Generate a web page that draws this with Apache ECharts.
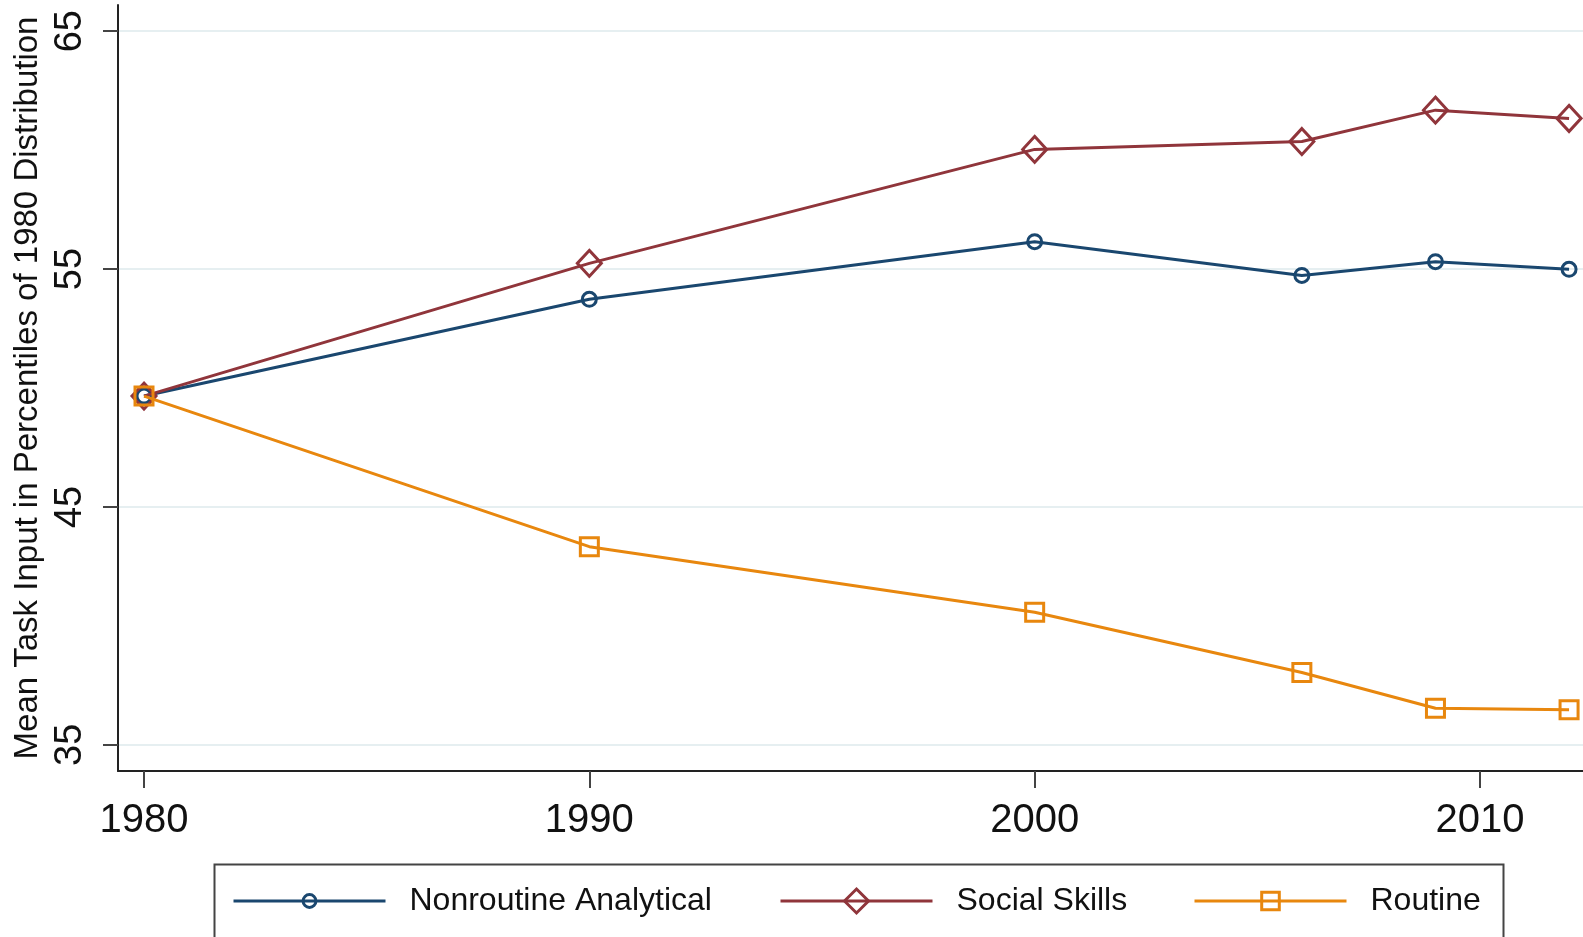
<!DOCTYPE html>
<html>
<head>
<meta charset="utf-8">
<script src="https://cdn.jsdelivr.net/npm/echarts@6/dist/echarts.min.js"></script>
<style>
html,body{margin:0;padding:0;background:#fff;}
#chart{width:1583px;height:937px;}
</style>
</head>
<body>
<div id="chart"></div>
<script>
const years = [1980, 1990, 2000, 2006, 2009, 2012];
const nonroutineAnalytical = [49.66, 53.73, 56.15, 54.73, 55.31, 54.99];
const socialSkills = [49.66, 55.24, 60.03, 60.36, 61.68, 61.33];
const routine = [49.66, 43.33, 40.57, 38.04, 36.54, 36.47];
const xTickLabels = [1980, 1990, 2000, 2010];
const yTickLabels = [35, 45, 55, 65];
const seriesNames = ['Nonroutine Analytical', 'Social Skills', 'Routine'];
const yTitle = 'Mean Task Input in Percentiles of 1980 Distribution';

const FONT = 'Liberation Sans, Arial, sans-serif';
const colors = ['#1a476f', '#90353b', '#e8870e'];
const pairs = arr => years.map((y, i) => [y, arr[i]]);

const chart = echarts.init(document.getElementById('chart'), null, {renderer: 'canvas'});

function mkSeries(name, data, color, symbol, size, z) {
  return {
    name: name, type: 'line', data: pairs(data), z: z,
    symbol: symbol, symbolSize: size, showSymbol: true,
    lineStyle: {color: color, width: 3},
    itemStyle: {color: 'rgba(255,255,255,0)', borderColor: color, borderWidth: 3},
    emphasis: {disabled: true},
    animation: false
  };
}

function mkLegend(name, left, itemHeight, color) {
  return {
    data: [name], left: left, top: 885, padding: 0,
    itemWidth: 152, itemHeight: itemHeight,
    lineStyle: {width: 3, color: color},
    itemStyle: {color: 'rgba(255,255,255,0)', borderColor: color, borderWidth: 3},
    textStyle: {fontSize: 32, fontFamily: FONT, color: '#111', padding: [0, 0, 0, 19]},
    selectedMode: false
  };
}

chart.setOption({
  backgroundColor: '#fff',
  animation: false,
  grid: {left: 118, right: 0, top: 5, bottom: 166, containLabel: false},
  xAxis: {
    type: 'value', min: 1979.416, max: 2012.313,
    axisLine: {show: true, onZero: false, lineStyle: {color: '#222', width: 2}},
    axisTick: {show: true, length: 17, customValues: xTickLabels, lineStyle: {color: '#444', width: 2}},
    axisLabel: {customValues: xTickLabels, margin: 30, fontSize: 40, fontFamily: FONT, color: '#111', formatter: v => String(v)},
    splitLine: {show: false}
  },
  yAxis: {
    type: 'value', min: 33.9, max: 66.1,
    name: yTitle, nameLocation: 'middle', nameGap: 70,
    nameTextStyle: {fontSize: 33, fontFamily: FONT, color: '#111'},
    axisLine: {show: true, onZero: false, lineStyle: {color: '#222', width: 2}},
    axisTick: {show: true, length: 15, customValues: yTickLabels, lineStyle: {color: '#444', width: 2}},
    axisLabel: {customValues: yTickLabels, margin: 28, rotate: 90, fontSize: 38, fontFamily: FONT, color: '#111'},
    splitLine: {show: true, lineStyle: {color: '#e6eff1', width: 2}}
  },
  legend: [
    mkLegend(seriesNames[0], 232, 16, colors[0]),
    mkLegend(seriesNames[1], 779, 30, colors[1]),
    mkLegend(seriesNames[2], 1193, 22, colors[2])
  ],
  graphic: [{
    type: 'rect', left: 212, top: 862, z: -1,
    shape: {x: 0, y: 0, width: 1289, height: 110},
    style: {fill: 'none', stroke: '#444', lineWidth: 2}
  }],
  series: [
    mkSeries(seriesNames[0], nonroutineAnalytical, colors[0], 'circle', 14, 2),
    mkSeries(seriesNames[1], socialSkills, colors[1], 'diamond', [24, 26], 3),
    mkSeries(seriesNames[2], routine, colors[2], 'rect', 18, 4)
  ]
});
</script>
</body>
</html>
